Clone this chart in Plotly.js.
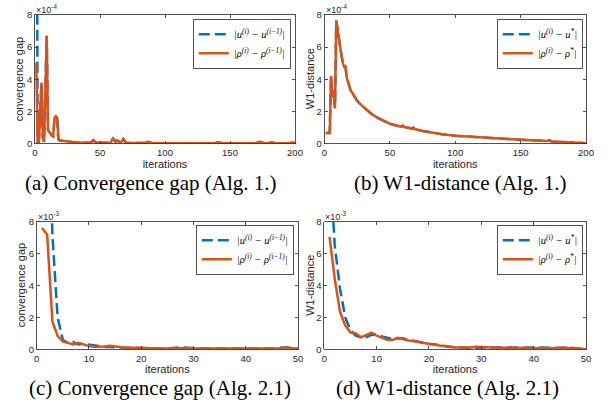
<!DOCTYPE html>
<html>
<head>
<meta charset="utf-8">
<script src="https://cdn.plot.ly/plotly-3.0.1.min.js"></script>
<style>html,body{margin:0;padding:0;background:#fff;}#chart{width:608px;height:409px;}</style>
</head>
<body>
<div id="chart"></div>
<script>
// ---------- data ----------
// (a) Convergence gap, Alg. 1  (units of 1e-4)
const itA = [1,2,3,4,5,6,7,8,9,10,11,12,13,14,15,16,17,18,19,20,22,25,28,30,35,40,43,45,47,50,55,58,60,62,63,65,66,68,70,75,80,85,87,90,100,110,120,130,138,141,144,150,160,170,173,176,180,182,185,190,195,198,200];
const rhoGapA = [5.0,0.05,0.1,2.0,3.8,0.35,0.1,3.3,6.7,0.85,0.7,0.6,0.5,0.45,1.6,1.7,1.6,0.25,0.2,0.18,0.15,0.12,0.1,0.08,0.06,0.05,0.06,0.22,0.05,0.04,0.04,0.05,0.3,0.1,0.2,0.08,0.05,0.28,0.04,0.03,0.03,0.03,0.12,0.03,0.02,0.02,0.02,0.02,0.02,0.08,0.02,0.02,0.02,0.02,0.12,0.02,0.02,0.08,0.02,0.02,0.02,0.07,0.02];
const uGapA = [30,0.05,0.1,2.0,3.8,0.35,0.1,3.3,6.7,0.85,0.7,0.6,0.5,0.45,1.6,1.7,1.6,0.25,0.2,0.18,0.15,0.12,0.1,0.08,0.06,0.05,0.06,0.22,0.05,0.04,0.04,0.05,0.3,0.1,0.2,0.08,0.05,0.28,0.04,0.03,0.03,0.03,0.12,0.03,0.02,0.02,0.02,0.02,0.02,0.08,0.02,0.02,0.02,0.02,0.12,0.02,0.02,0.08,0.02,0.02,0.02,0.07,0.02];

// (b) W1-distance, Alg. 1  (units of 1e-4)
const itB = [1,2,3,4,5,6,7,8,9,10,11,12,13,14,15,16,17,18,19,20,22,25,28,30,35,40,45,50,55,59,60,61,65,67,68,69,75,80,90,100,110,120,130,140,150,160,170,172,174,180,190,200];
const rhoW1B = [0.65,0.65,0.65,0.65,4.2,2.9,3.3,2.2,7.65,7.0,6.5,6.0,5.5,5.0,4.8,4.8,4.1,3.85,3.5,3.3,3.05,2.65,2.4,2.25,1.9,1.62,1.4,1.23,1.12,1.05,1.13,1.02,0.96,0.93,0.99,0.9,0.78,0.7,0.58,0.48,0.42,0.37,0.32,0.28,0.24,0.19,0.15,0.2,0.13,0.11,0.06,0.02];
const uW1B = [0.65,0.65,0.65,0.65,4.2,2.9,3.3,2.2,7.65,7.0,6.5,6.0,5.5,5.0,4.8,4.8,4.1,3.85,3.5,3.3,3.05,2.65,2.4,2.25,1.9,1.62,1.4,1.23,1.12,1.05,1.13,1.02,0.96,0.93,0.99,0.9,0.78,0.7,0.58,0.48,0.42,0.37,0.32,0.28,0.24,0.19,0.15,0.2,0.13,0.11,0.06,0.02];

// (c) Convergence gap, Alg. 2.1  (units of 1e-3)
const itC = [1,2,3,4,5,6,7,8,9,10,11,12,13,14,15,16,17,18,19,20,22,25,27,28,29,30,32,35,38,40,42,44,46,47,48,49,50];
const rhoGapC = [7.6,7.2,1.75,0.85,0.5,0.42,0.3,0.4,0.3,0.2,0.16,0.15,0.18,0.22,0.18,0.12,0.1,0.1,0.08,0.07,0.06,0.05,0.08,0.1,0.08,0.05,0.04,0.04,0.05,0.05,0.06,0.05,0.04,0.05,0.1,0.06,0.03];
const uGapC = [40,20,7.2,2.0,0.6,0.4,0.45,0.3,0.35,0.3,0.22,0.18,0.15,0.15,0.15,0.12,0.1,0.12,0.1,0.08,0.07,0.05,0.12,0.12,0.1,0.06,0.05,0.04,0.06,0.05,0.05,0.04,0.05,0.12,0.12,0.05,0.03];

// (d) W1-distance, Alg. 2.1  (units of 1e-3)
const itD = [1,2,3,4,5,6,7,8,9,10,11,12,13,14,15,16,17,18,19,20,21,22,23,24,25,26,27,28,29,30,32,35,38,40,43,46,47,48,50];
const rhoW1D = [7.05,4.4,2.35,1.5,1.05,1.0,0.75,0.9,1.05,0.85,0.7,0.6,0.58,0.72,0.65,0.55,0.52,0.48,0.4,0.33,0.28,0.22,0.18,0.14,0.12,0.11,0.11,0.12,0.16,0.14,0.11,0.1,0.08,0.07,0.07,0.1,0.08,0.05,0.0];
const uW1D = [12,6.5,3.8,2.0,1.2,0.85,0.75,0.75,0.9,0.95,0.8,0.72,0.65,0.68,0.7,0.6,0.55,0.5,0.42,0.35,0.3,0.25,0.2,0.16,0.13,0.12,0.1,0.08,0.05,0.12,0.12,0.1,0.1,0.09,0.09,0.12,0.1,0.06,0.02];

// labels
const xLabel = 'iterations';
const yLabels = ['convergence gap', 'W1-distance', 'convergence gap', 'W1-distance'];
const expLabels = ['×10<sup>-4</sup>', '×10<sup>-4</sup>', '×10<sup>-3</sup>', '×10<sup>-3</sup>'];
const captions = ['(a) Convergence gap (Alg. 1.)', '(b) W1-distance (Alg. 1.)', '(c) Convergence gap (Alg. 2.1)', '(d) W1-distance (Alg. 2.1)'];
const legU = ['|u<sup>(i)</sup> − u<sup>(i−1)</sup>|', '|u<sup>(i)</sup> − u<sup>*</sup>|', '|u<sup>(i)</sup> − u<sup>(i−1)</sup>|', '|u<sup>(i)</sup> − u<sup>*</sup>|'];
const legR = ['|ρ<sup>(i)</sup> − ρ<sup>(i−1)</sup>|', '|ρ<sup>(i)</sup> − ρ<sup>*</sup>|', '|ρ<sup>(i)</sup> − ρ<sup>(i−1)</sup>|', '|ρ<sup>(i)</sup> − ρ<sup>*</sup>|'];

// ---------- styling ----------
const BLUE = '#0072BD', ORANGE = '#D95319', INK = '#262626';
const SANS = 'Liberation Sans, Arial, sans-serif';
const SERIF = 'Liberation Serif, Times New Roman, serif';

const xs = [itA, itB, itC, itD];
const us = [uGapA, uW1B, uGapC, uW1D];
const rs = [rhoGapA, rhoW1B, rhoGapC, rhoW1D];

const traces = [];
for (let k = 0; k < 4; k++) {
  const sfx = k === 0 ? '' : String(k + 1);
  const leg = 'legend' + sfx;
  traces.push({x: xs[k], y: us[k], type: 'scatter', mode: 'lines', name: legU[k],
    xaxis: 'x' + sfx, yaxis: 'y' + sfx, legend: leg,
    line: {color: BLUE, width: 2.5, dash: '11px,5px'}});
  traces.push({x: xs[k], y: rs[k], type: 'scatter', mode: 'lines', name: legR[k],
    xaxis: 'x' + sfx, yaxis: 'y' + sfx, legend: leg,
    line: {color: ORANGE, width: 2.5}});
}

function axis(extra) {
  return Object.assign({
    showline: true, mirror: 'ticks', linecolor: INK, linewidth: 0.8,
    ticks: 'inside', ticklen: 3, tickwidth: 0.8, tickcolor: INK,
    showgrid: false, zeroline: false,
    tickfont: {family: SANS, size: 9.5, color: INK}
  }, extra);
}
const xTitle = {text: xLabel, font: {family: SANS, size: 11, color: INK}, standoff: 2};

const W = 608, H = 409;
const px = v => v / W, py = v => 1 - v / H;

const layout = {
  width: W, height: H, autosize: false,
  margin: {l: 0, r: 0, t: 0, b: 0},
  paper_bgcolor: '#fff', plot_bgcolor: '#fff',
  showlegend: true,
  xaxis:  axis({domain: [px(35), px(295)], range: [0, 200], dtick: 50, anchor: 'y', title: xTitle}),
  yaxis:  axis({domain: [py(143.5), py(15)], range: [0, 8], dtick: 2, anchor: 'x'}),
  xaxis2: axis({domain: [px(324.5), px(586)], range: [0, 200], dtick: 50, anchor: 'y2', title: xTitle}),
  yaxis2: axis({domain: [py(143.5), py(15)], range: [0, 8], dtick: 2, anchor: 'x2'}),
  xaxis3: axis({domain: [px(36.7), px(298)], range: [0, 50], dtick: 10, anchor: 'y3', title: xTitle}),
  yaxis3: axis({domain: [py(349.3), py(221.7)], range: [0, 8], dtick: 2, anchor: 'x3'}),
  xaxis4: axis({domain: [px(324.3), px(586)], range: [0, 50], dtick: 10, anchor: 'y4', title: xTitle}),
  yaxis4: axis({domain: [py(349.3), py(221.7)], range: [0, 8], dtick: 2, anchor: 'x4'}),
  annotations: []
};

const legPos = [[291, 19], [583, 19], [294, 225], [583, 225]];
const yTitleShift = [-16, -14.5, -16, -15];
for (let k = 0; k < 4; k++) {
  const key = k === 0 ? 'legend' : 'legend' + (k + 1);
  layout[key] = {
    x: px(legPos[k][0]), y: py(legPos[k][1]), xanchor: 'right', yanchor: 'top',
    bgcolor: '#fff', bordercolor: INK, borderwidth: 0.8,
    font: {family: SERIF, size: 10.5, color: '#000', style: 'italic'},
    tracegroupgap: 0, itemwidth: 30
  };
  const sfx = k === 0 ? '' : String(k + 1);
  // exponent label (MATLAB style)
  layout.annotations.push({
    xref: 'x' + sfx + ' domain', yref: 'y' + sfx + ' domain', x: 0, y: 1,
    xanchor: 'left', yanchor: 'bottom', showarrow: false, text: expLabels[k],
    font: {family: SANS, size: 9, color: INK}, xshift: -1, yshift: -2
  });
  // y-axis title
  layout.annotations.push({
    xref: 'x' + sfx + ' domain', yref: 'y' + sfx + ' domain', x: 0, y: 0.5,
    xanchor: 'center', yanchor: 'middle', showarrow: false, text: yLabels[k],
    textangle: -90, xshift: yTitleShift[k],
    font: {family: SANS, size: 11, color: INK}
  });
}

const capPos = [[151, 183], [460, 183], [160, 388], [447, 388]];
for (let k = 0; k < 4; k++) {
  layout.annotations.push({
    xref: 'paper', yref: 'paper', x: px(capPos[k][0]), y: py(capPos[k][1]),
    xanchor: 'center', yanchor: 'middle', showarrow: false, text: captions[k],
    font: {family: SERIF, size: 21, color: '#000'}
  });
}

Plotly.newPlot('chart', traces, layout, {staticPlot: true, displayModeBar: false});
</script>
</body>
</html>
